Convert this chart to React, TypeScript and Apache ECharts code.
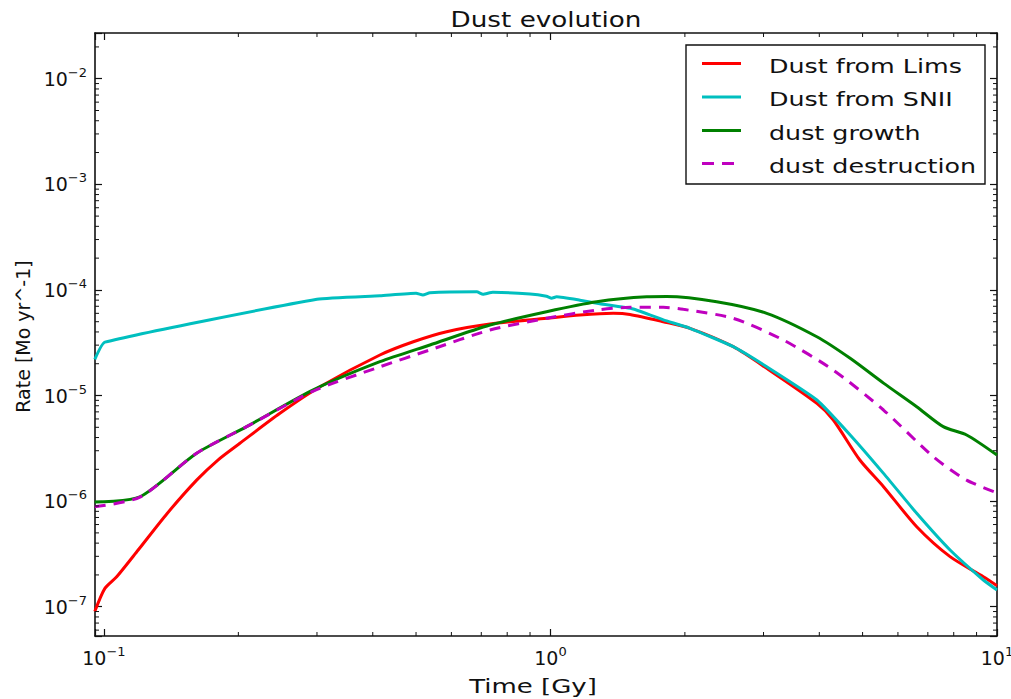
import React, { useEffect, useRef } from 'react';
import * as echarts from 'echarts';

// ---- data ----
const limsT = [0.0954, 0.1005, 0.1068, 0.1193, 0.1384, 0.1613, 0.18, 0.2016, 0.2478, 0.3047, 0.415, 0.493, 0.5855, 0.732, 0.98, 1.164, 1.382, 1.507, 1.789, 2.053, 2.567, 3.05, 3.95, 4.3, 4.93, 5.57, 6.61, 7.85, 9.32, 10];
const limsV = [9.0e-8, 1.49e-7, 1.92e-7, 3.44e-7, 7.6e-7, 1.58e-6, 2.45e-6, 3.53e-6, 6.78e-6, 1.21e-5, 2.42e-5, 3.23e-5, 4.02e-5, 4.75e-5, 5.38e-5, 5.78e-5, 6.0e-5, 5.85e-5, 5.0e-5, 4.33e-5, 2.9e-5, 1.81e-5, 8.44e-6, 5.86e-6, 2.45e-6, 1.37e-6, 5.72e-7, 2.98e-7, 1.92e-7, 1.58e-7];

const sniiT = [0.0954, 0.1005, 0.3, 0.415, 0.5, 0.518, 0.537, 0.684, 0.706, 0.743, 0.9, 0.98, 1.006, 1.032, 1.164, 1.29, 1.533, 1.79, 2.053, 2.567, 3.05, 3.95, 4.69, 5.57, 6.61, 7.85, 9.32, 10];
const sniiV = [2.2e-5, 3.2e-5, 8.15e-5, 8.8e-5, 9.3e-5, 8.95e-5, 9.4e-5, 9.6e-5, 9.1e-5, 9.5e-5, 9.15e-5, 8.7e-5, 8.35e-5, 8.6e-5, 8.0e-5, 7.4e-5, 6.6e-5, 5.2e-5, 4.33e-5, 2.9e-5, 1.87e-5, 9.07e-6, 4.23e-6, 1.83e-6, 7.66e-7, 3.44e-7, 1.79e-7, 1.44e-7];

const growthT = [0.0954, 0.1204, 0.1613, 0.2087, 0.2943, 0.415, 0.537, 0.732, 0.98, 1.269, 1.643, 1.821, 2.356, 3.05, 3.95, 4.69, 5.57, 6.61, 7.58, 8.55, 10];
const growthV = [9.8e-7, 1.1e-6, 2.84e-6, 5.07e-6, 1.13e-5, 2.09e-5, 3.01e-5, 4.65e-5, 6.22e-5, 7.73e-5, 8.6e-5, 8.65e-5, 7.73e-5, 6.0e-5, 3.6e-5, 2.25e-5, 1.31e-5, 7.83e-6, 5.07e-6, 4.23e-6, 2.73e-6];

const destrT = [0.0954, 0.1204, 0.1613, 0.2087, 0.2943, 0.415, 0.537, 0.732, 0.98, 1.269, 1.507, 1.789, 1.984, 2.567, 3.32, 4.3, 5.57, 7.2, 8.55, 10];
const destrV = [8.85e-7, 1.09e-6, 2.84e-6, 5.07e-6, 1.1e-5, 1.87e-5, 2.7e-5, 4.17e-5, 5.38e-5, 6.45e-5, 6.84e-5, 6.84e-5, 6.55e-5, 5.38e-5, 3.36e-5, 1.74e-5, 7.29e-6, 2.63e-6, 1.58e-6, 1.2e-6];

const seriesNames = ['Dust from Lims', 'Dust from SNII', 'dust growth', 'dust destruction'];
const seriesColors = ['#ff0000', '#00bfbf', '#008000', '#bf00bf'];

const xTickExps = [-1, 0, 1];
const yTickExps = [-7, -6, -5, -4, -3, -2];
const minorMultipliers = [2, 3, 4, 5, 6, 7, 8, 9];

const titleText = 'Dust evolution';
const xName = 'Time [Gy]';
const yName = 'Rate [Mo yr^-1]';

const X_MIN = 0.0955;
const X_MAX = 10;
const Y_MIN = 5.28e-8;
const Y_MAX = 0.0271;

const W = 1011;
const H = 699;
const FONT = 'DejaVu Sans';

function pairs(t: number[], v: number[]) {
  return t.map((x, i) => [x, v[i]]);
}

function makeFormatter(exps: number[]) {
  return (val: number) => {
    const l = Math.log10(val);
    const e = Math.round(l);
    if (Math.abs(l - e) > 1e-6 || exps.indexOf(e) < 0) return '';
    const s = e < 0 ? '\u2212' + String(-e) : String(e);
    return '{b|10}{s|' + s + '}';
  };
}

const rich = {
  b: { fontSize: 19, fontFamily: FONT, color: '#111', lineHeight: 26 },
  s: { fontSize: 13, fontFamily: FONT, color: '#111', verticalAlign: 'top', lineHeight: 13 },
};

function axisCommon(extra: any) {
  return {
    type: 'log',
    logBase: 10,
    axisLine: { show: true, onZero: false, lineStyle: { color: '#111', width: 1.6 } },
    axisTick: { show: true, inside: true, length: 7, lineStyle: { color: '#111', width: 1.2 } },
    splitLine: { show: false },
    minorTick: { show: false },
    minorSplitLine: { show: false },
    ...extra,
  };
}

export default function App() {
  const ref = useRef<HTMLDivElement>(null);

  useEffect(() => {
    if (!ref.current) return;
    const chart = echarts.init(ref.current, null, { renderer: 'svg' });

    const lineSeries = (idx: number, data: number[][], dashed: boolean, smooth: number) => ({
      type: 'line',
      name: seriesNames[idx],
      data,
      symbol: 'none',
      showSymbol: false,
      smooth,
      xAxisIndex: 0,
      yAxisIndex: 0,
      clip: true,
      lineStyle: { color: seriesColors[idx], width: 3, type: dashed ? [11, 8] : 'solid' },
      itemStyle: { color: seriesColors[idx] },
      emphasis: { disabled: true },
    });

    const option: any = {
      animation: false,
      backgroundColor: '#ffffff',
      grid: { left: 95, right: 14, top: 33, bottom: 63, containLabel: false, outerBoundsMode: 'none' },
      xAxis: [
        axisCommon({
          position: 'bottom',
          min: X_MIN,
          max: X_MAX,
          axisLabel: { show: true, margin: 9, formatter: makeFormatter(xTickExps), rich },
        }),
        axisCommon({ position: 'top', min: X_MIN, max: X_MAX, axisLabel: { show: false } }),
      ],
      yAxis: [
        axisCommon({
          position: 'left',
          min: Y_MIN,
          max: Y_MAX,
          axisLabel: { show: true, margin: 8, formatter: makeFormatter(yTickExps), rich },
        }),
        axisCommon({ position: 'right', min: Y_MIN, max: Y_MAX, axisLabel: { show: false } }),
      ],
      series: [
        lineSeries(0, pairs(limsT, limsV), false, 0.25),
        lineSeries(1, pairs(sniiT, sniiV), false, 0.15),
        lineSeries(2, pairs(growthT, growthV), false, 0.25),
        lineSeries(3, pairs(destrT, destrV), true, 0.25),
      ],
    };
    chart.setOption(option);

    const xPx = (v: number) => chart.convertToPixel({ xAxisIndex: 0 } as any, v) as unknown as number;
    const yPx = (v: number) => chart.convertToPixel({ yAxisIndex: 0 } as any, v) as unknown as number;
    const left = xPx(X_MIN);
    const right = xPx(X_MAX);
    const bottom = yPx(Y_MIN);
    const top = yPx(Y_MAX);

    const graphics: any[] = [];
    const tickStyle = { stroke: '#111', lineWidth: 1 };
    const ML = 4;
    for (let k = -2; k <= 1; k++) {
      for (const m of minorMultipliers) {
        const v = m * Math.pow(10, k);
        if (v <= X_MIN || v >= X_MAX) continue;
        const px = xPx(v);
        graphics.push({ type: 'line', silent: true, z: 5, shape: { x1: px, y1: bottom, x2: px, y2: bottom - ML }, style: tickStyle });
        graphics.push({ type: 'line', silent: true, z: 5, shape: { x1: px, y1: top, x2: px, y2: top + ML }, style: tickStyle });
      }
    }
    for (let k = -8; k <= -1; k++) {
      for (const m of minorMultipliers) {
        const v = m * Math.pow(10, k);
        if (v <= Y_MIN || v >= Y_MAX) continue;
        const py = yPx(v);
        graphics.push({ type: 'line', silent: true, z: 5, shape: { x1: left, y1: py, x2: left + ML, y2: py }, style: tickStyle });
        graphics.push({ type: 'line', silent: true, z: 5, shape: { x1: right, y1: py, x2: right - ML, y2: py }, style: tickStyle });
      }
    }

    const txt = (text: string, x: number, y: number, size: number, sx: number, align: string, rot = 0) => ({
      type: 'text',
      silent: true,
      z: 20,
      x,
      y,
      rotation: rot,
      scaleX: sx,
      style: {
        text,
        fontSize: size,
        fontFamily: FONT,
        fill: '#111',
        align,
        textAlign: align,
        verticalAlign: 'middle',
        textVerticalAlign: 'middle',
      },
    });

    // title and axis names
    graphics.push(txt(titleText, (left + right) / 2, 19.5, 21.5, 1.22, 'center'));
    graphics.push(txt(xName, 533, 686, 20, 1.3, 'center'));
    graphics.push(txt(yName, 23, 336.5, 19, 1, 'center', Math.PI / 2));

    // legend
    const legX = 686;
    const legY = 45;
    graphics.push({
      type: 'rect',
      silent: true,
      z: 15,
      shape: { x: legX, y: legY, width: 299, height: 139 },
      style: { fill: '#ffffff', stroke: '#111', lineWidth: 1.4 },
    });
    const rowY = [66, 99.5, 133, 166];
    seriesNames.forEach((name, i) => {
      const ly = rowY[i] - 2.5;
      graphics.push({
        type: 'line',
        silent: true,
        z: 16,
        shape: { x1: 702, y1: ly, x2: 741, y2: ly },
        style: { stroke: seriesColors[i], lineWidth: 3, lineDash: i === 3 ? [12, 8] : null },
      });
      graphics.push(txt(name, 769, rowY[i], 19.5, 1.3, 'left'));
    });

    chart.setOption({ graphic: { elements: graphics } });

    return () => {
      chart.dispose();
    };
  }, []);

  return <div ref={ref} style={{ position: 'fixed', left: 0, top: 0, width: W, height: H }} />;
}
